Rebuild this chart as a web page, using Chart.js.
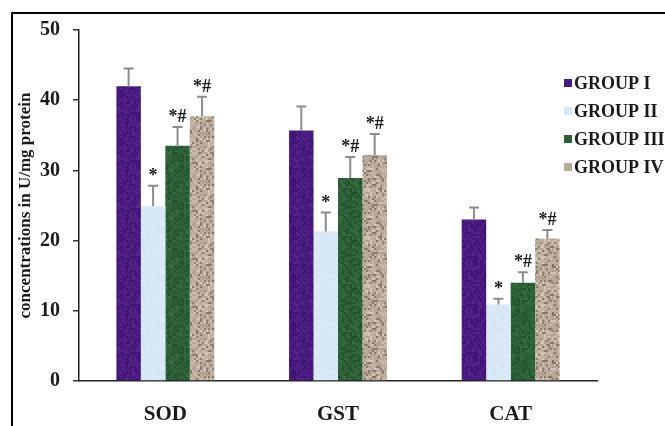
<!DOCTYPE html>
<html>
<head>
<meta charset="utf-8">
<script src="https://cdn.jsdelivr.net/npm/chart.js@4.4.1/dist/chart.umd.min.js"></script>
<style>
    html, body { margin: 0; padding: 0; background: #fff; overflow: hidden; }
    #wrap { position: relative; width: 665px; height: 426px; }
    #frame { position: absolute; left: 11px; top: 12px; width: 720px; height: 500px; border: 2px solid #000; box-sizing: border-box; pointer-events: none; }
    canvas { position: absolute; left: 0; top: 0; }
</style>
</head>
<body>
<div id="wrap">
    <canvas id="chart" width="665" height="426"></canvas>
    <div id="frame"></div>
</div>
<script>
const categories = ['SOD', 'GST', 'CAT'];
const groupLabels = ['GROUP I', 'GROUP II', 'GROUP III', 'GROUP IV'];

const group1 = [42.0, 35.7, 23.0];
const group2 = [24.9, 21.3, 10.9];
const group3 = [33.5, 28.9, 14.0];
const group4 = [37.7, 32.2, 20.3];

const err1 = [2.5, 3.4, 1.7];
const err2 = [2.9, 2.7, 0.8];
const err3 = [2.7, 3.0, 1.5];
const err4 = [2.8, 3.0, 1.2];

const sig1 = ['', '', ''];
const sig2 = ['*', '*', '*'];
const sig3 = ['*#', '*#', '*#'];
const sig4 = ['*#', '*#', '*#'];

const yTicks = [0, 10, 20, 30, 40, 50];

const groupColors = ['#4b1c7f', '#d9e8f6', '#2c5f36', '#b8a99b'];
const serif = '"Liberation Serif", "DejaVu Serif", serif';

// textured fills, deterministic noise so the bars look like the clip-art fills
function hash(x, y, s) {
    const v = Math.sin(x * 127.1 + y * 311.7 + s * 74.7) * 43758.5453;
    return v - Math.floor(v);
}

function makeTexture(base, amount, seed, speckle) {
    const c = document.createElement('canvas');
    c.width = 48; c.height = 48;
    const g = c.getContext('2d');
    const r0 = parseInt(base.slice(1, 3), 16), g0 = parseInt(base.slice(3, 5), 16), b0 = parseInt(base.slice(5, 7), 16);
    for (let y = 0; y < 48; y += 2) {
        for (let x = 0; x < 48; x += 2) {
            let n = (hash(x, y, seed) - 0.5) * amount;
            if (speckle) {
                const h = hash(x + 3, y + 7, seed + 1);
                if (h > 0.82) n -= 45; else if (h < 0.25) n += 22;
            }
            g.fillStyle = `rgb(${Math.max(0, Math.min(255, r0 + n))},${Math.max(0, Math.min(255, g0 + n))},${Math.max(0, Math.min(255, b0 + n))})`;
            g.fillRect(x, y, 2, 2);
        }
    }
    return g.createPattern(c, 'repeat');
}

const fills = [
    makeTexture(groupColors[0], 22, 1, false),
    makeTexture(groupColors[1], 8, 2, false),
    makeTexture(groupColors[2], 26, 3, false),
    makeTexture(groupColors[3], 20, 4, true)
];

const seriesValues = [group1, group2, group3, group4];
const seriesErrors = [err1, err2, err3, err4];
const seriesSig = [sig1, sig2, sig3, sig4];

const errorBars = {
    id: 'errorBars',
    afterDatasetsDraw(chart) {
        const ctx = chart.ctx;
        const yScale = chart.scales.y;
        ctx.save();
        chart.data.datasets.forEach((ds, i) => {
            const meta = chart.getDatasetMeta(i);
            meta.data.forEach((bar, j) => {
                const top = yScale.getPixelForValue(seriesValues[i][j] + seriesErrors[i][j]);
                ctx.strokeStyle = '#8c8c8c';
                ctx.lineWidth = 2;
                ctx.beginPath();
                ctx.moveTo(bar.x, bar.y);
                ctx.lineTo(bar.x, top);
                ctx.moveTo(bar.x - 5, top);
                ctx.lineTo(bar.x + 5, top);
                ctx.stroke();
                const s = seriesSig[i][j];
                if (s) {
                    ctx.fillStyle = '#1a1a1a';
                    ctx.font = 'bold 18px ' + serif;
                    ctx.textAlign = 'center';
                    ctx.textBaseline = 'alphabetic';
                    ctx.fillText(s, bar.x, top - 5);
                }
            });
        });
        ctx.restore();
    }
};

const sideLegend = {
    id: 'sideLegend',
    afterDraw(chart) {
        const ctx = chart.ctx;
        ctx.save();
        ctx.font = 'bold 18px ' + serif;
        ctx.textAlign = 'left';
        ctx.textBaseline = 'alphabetic';
        groupLabels.forEach((label, i) => {
            const cy = 83 + i * 28;
            ctx.fillStyle = groupColors[i];
            ctx.fillRect(564, cy - 4, 8, 8);
            ctx.fillStyle = '#1a1a1a';
            ctx.fillText(label, 574, cy + 6);
        });
        ctx.restore();
    }
};

new Chart(document.getElementById('chart'), {
    type: 'bar',
    data: {
        labels: categories,
        datasets: groupLabels.map((label, i) => ({
            label: label,
            data: seriesValues[i],
            backgroundColor: fills[i],
            borderWidth: 0,
            barPercentage: 1,
            categoryPercentage: 0.567
        }))
    },
    options: {
        responsive: false,
        animation: false,
        layout: { padding: { left: 14, right: 68, top: 30, bottom: 0 } },
        plugins: { legend: { display: false }, tooltip: { enabled: false } },
        scales: {
            x: {
                grid: { display: false, drawTicks: false },
                border: { display: true, color: '#222', width: 1.5 },
                ticks: { color: '#1a1a1a', padding: 21, font: { family: serif, size: 21, weight: 'bold' } },
                afterFit: (scale) => { scale.height = 45; }
            },
            y: {
                min: 0,
                max: 50,
                afterBuildTicks: (scale) => { scale.ticks = yTicks.map(v => ({ value: v })); },
                grid: { drawOnChartArea: false, drawTicks: true, tickLength: 6, color: '#333', lineWidth: 1.5 },
                border: { display: true, color: '#222', width: 1.5 },
                ticks: { color: '#1a1a1a', padding: 13, font: { family: serif, size: 20, weight: 'bold' } },
                title: {
                    display: true,
                    text: 'concentrations in U/mg protein',
                    color: '#1a1a1a',
                    padding: { top: 1, bottom: 0 },
                    font: { family: serif, size: 17, weight: 'bold' }
                },
                afterFit: (scale) => { scale.width = 65; }
            }
        }
    },
    plugins: [errorBars, sideLegend]
});
</script>
</body>
</html>
